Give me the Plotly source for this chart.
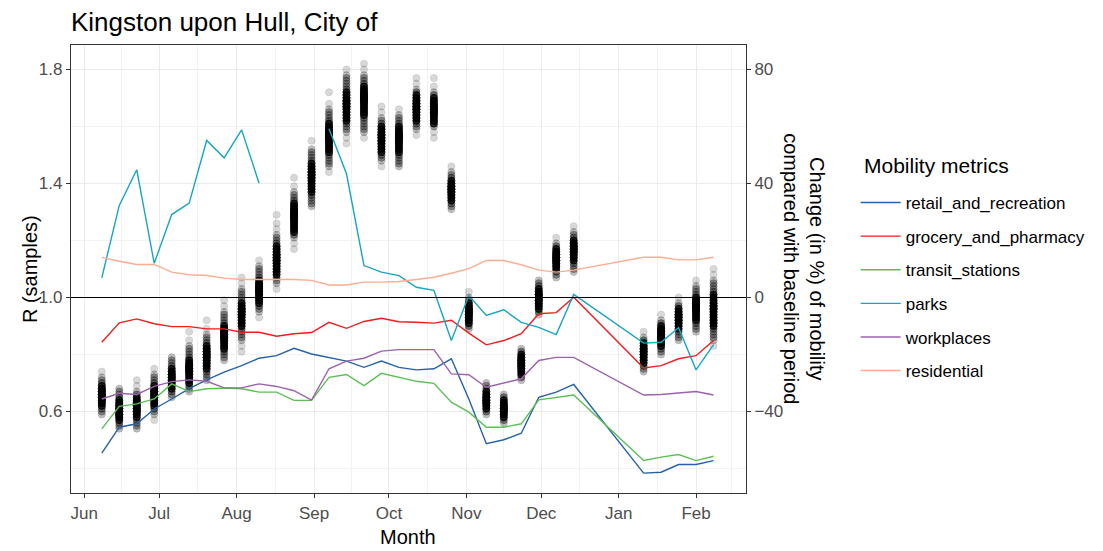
import plotly.graph_objects as go
import pandas as pd

# ---------------- data ----------------
weeks = ["2020-06-08", "2020-06-15", "2020-06-22", "2020-06-29", "2020-07-06", "2020-07-13",
         "2020-07-20", "2020-07-27", "2020-08-03", "2020-08-10", "2020-08-17", "2020-08-24",
         "2020-08-31", "2020-09-07", "2020-09-14", "2020-09-21", "2020-09-28", "2020-10-05",
         "2020-10-12", "2020-10-19", "2020-10-26", "2020-11-02", "2020-11-09", "2020-11-16",
         "2020-11-23", "2020-11-30", "2020-12-07", "2020-12-14",
         "2021-01-11", "2021-01-18", "2021-01-25", "2021-02-01", "2021-02-08"]

r_samples = [
    [0.59, 0.60, 0.61, 0.62, 0.62, 0.63, 0.63, 0.64, 0.64, 0.64, 0.65, 0.65, 0.65, 0.66, 0.66, 0.66, 0.67, 0.67, 0.67, 0.68, 0.68, 0.69, 0.69, 0.70, 0.71, 0.72, 0.74],
    [0.54, 0.55, 0.56, 0.57, 0.57, 0.58, 0.58, 0.59, 0.59, 0.59, 0.60, 0.60, 0.60, 0.61, 0.61, 0.61, 0.62, 0.62, 0.62, 0.63, 0.63, 0.64, 0.64, 0.65, 0.66, 0.67, 0.68],
    [0.54, 0.55, 0.56, 0.57, 0.58, 0.58, 0.59, 0.59, 0.60, 0.60, 0.60, 0.61, 0.61, 0.61, 0.62, 0.62, 0.62, 0.63, 0.63, 0.63, 0.64, 0.64, 0.65, 0.65, 0.66, 0.67, 0.69, 0.71],
    [0.57, 0.59, 0.60, 0.61, 0.62, 0.62, 0.63, 0.63, 0.64, 0.64, 0.65, 0.65, 0.65, 0.66, 0.66, 0.66, 0.67, 0.67, 0.67, 0.68, 0.68, 0.69, 0.69, 0.70, 0.71, 0.72, 0.73, 0.75],
    [0.65, 0.66, 0.67, 0.68, 0.68, 0.69, 0.69, 0.70, 0.70, 0.71, 0.71, 0.71, 0.72, 0.72, 0.72, 0.73, 0.73, 0.73, 0.74, 0.74, 0.75, 0.75, 0.76, 0.77, 0.78, 0.79],
    [0.67, 0.68, 0.69, 0.70, 0.70, 0.71, 0.71, 0.72, 0.72, 0.73, 0.73, 0.74, 0.74, 0.74, 0.75, 0.75, 0.75, 0.76, 0.76, 0.76, 0.77, 0.77, 0.78, 0.78, 0.79, 0.80, 0.81, 0.82, 0.83, 0.85, 0.88],
    [0.71, 0.72, 0.73, 0.74, 0.75, 0.75, 0.76, 0.76, 0.77, 0.77, 0.78, 0.78, 0.79, 0.79, 0.79, 0.80, 0.80, 0.80, 0.81, 0.81, 0.81, 0.82, 0.82, 0.83, 0.83, 0.84, 0.85, 0.86, 0.87, 0.89, 0.92],
    [0.78, 0.79, 0.80, 0.81, 0.82, 0.82, 0.83, 0.83, 0.84, 0.84, 0.85, 0.85, 0.86, 0.86, 0.86, 0.87, 0.87, 0.87, 0.88, 0.88, 0.88, 0.89, 0.89, 0.90, 0.90, 0.91, 0.92, 0.93, 0.94, 0.95, 0.97, 0.99],
    [0.81, 0.83, 0.85, 0.86, 0.87, 0.88, 0.89, 0.90, 0.90, 0.91, 0.91, 0.92, 0.92, 0.93, 0.93, 0.94, 0.94, 0.94, 0.95, 0.95, 0.95, 0.96, 0.96, 0.96, 0.97, 0.97, 0.98, 0.98, 0.99, 1.00, 1.01, 1.02, 1.03, 1.05, 1.07],
    [0.93, 0.95, 0.96, 0.97, 0.98, 0.98, 0.99, 0.99, 1.00, 1.00, 1.01, 1.01, 1.02, 1.02, 1.02, 1.03, 1.03, 1.03, 1.04, 1.04, 1.04, 1.05, 1.05, 1.06, 1.06, 1.07, 1.08, 1.09, 1.10, 1.11, 1.13],
    [1.03, 1.05, 1.06, 1.07, 1.08, 1.08, 1.09, 1.09, 1.10, 1.10, 1.11, 1.11, 1.12, 1.12, 1.13, 1.13, 1.13, 1.14, 1.14, 1.14, 1.15, 1.15, 1.15, 1.16, 1.16, 1.17, 1.17, 1.18, 1.18, 1.19, 1.20, 1.21, 1.22, 1.24, 1.26, 1.29],
    [1.17, 1.19, 1.21, 1.22, 1.23, 1.23, 1.24, 1.24, 1.25, 1.25, 1.26, 1.26, 1.27, 1.27, 1.28, 1.28, 1.28, 1.29, 1.29, 1.29, 1.30, 1.30, 1.30, 1.31, 1.31, 1.32, 1.32, 1.33, 1.33, 1.34, 1.35, 1.36, 1.37, 1.39, 1.42],
    [1.32, 1.33, 1.34, 1.35, 1.36, 1.37, 1.37, 1.38, 1.38, 1.39, 1.39, 1.40, 1.40, 1.41, 1.41, 1.42, 1.42, 1.42, 1.43, 1.43, 1.43, 1.44, 1.44, 1.44, 1.45, 1.45, 1.46, 1.46, 1.47, 1.47, 1.48, 1.49, 1.50, 1.51, 1.52, 1.55],
    [1.44, 1.46, 1.47, 1.48, 1.49, 1.50, 1.51, 1.51, 1.52, 1.52, 1.53, 1.53, 1.54, 1.54, 1.55, 1.55, 1.56, 1.56, 1.56, 1.57, 1.57, 1.57, 1.58, 1.58, 1.58, 1.59, 1.59, 1.60, 1.60, 1.61, 1.61, 1.62, 1.63, 1.64, 1.65, 1.66, 1.68, 1.72],
    [1.54, 1.56, 1.58, 1.59, 1.60, 1.61, 1.62, 1.62, 1.63, 1.63, 1.64, 1.64, 1.65, 1.65, 1.66, 1.66, 1.67, 1.67, 1.67, 1.68, 1.68, 1.68, 1.69, 1.69, 1.69, 1.70, 1.70, 1.71, 1.71, 1.72, 1.72, 1.73, 1.74, 1.75, 1.76, 1.77, 1.78, 1.80],
    [1.56, 1.58, 1.59, 1.60, 1.61, 1.62, 1.63, 1.64, 1.64, 1.65, 1.65, 1.66, 1.66, 1.67, 1.67, 1.68, 1.68, 1.69, 1.69, 1.69, 1.70, 1.70, 1.70, 1.71, 1.71, 1.71, 1.72, 1.72, 1.73, 1.73, 1.74, 1.74, 1.75, 1.76, 1.77, 1.78, 1.80, 1.82],
    [1.46, 1.48, 1.49, 1.50, 1.51, 1.51, 1.52, 1.52, 1.53, 1.53, 1.54, 1.54, 1.55, 1.55, 1.55, 1.56, 1.56, 1.56, 1.57, 1.57, 1.57, 1.58, 1.58, 1.59, 1.59, 1.60, 1.60, 1.61, 1.62, 1.63, 1.65, 1.67],
    [1.46, 1.47, 1.48, 1.49, 1.50, 1.51, 1.51, 1.52, 1.52, 1.53, 1.53, 1.54, 1.54, 1.55, 1.55, 1.55, 1.56, 1.56, 1.56, 1.57, 1.57, 1.57, 1.58, 1.58, 1.59, 1.59, 1.60, 1.60, 1.61, 1.62, 1.63, 1.64, 1.66],
    [1.57, 1.59, 1.60, 1.61, 1.62, 1.62, 1.63, 1.63, 1.64, 1.64, 1.65, 1.65, 1.66, 1.66, 1.66, 1.67, 1.67, 1.67, 1.68, 1.68, 1.68, 1.69, 1.69, 1.70, 1.70, 1.71, 1.71, 1.72, 1.73, 1.75, 1.77],
    [1.56, 1.58, 1.60, 1.61, 1.61, 1.62, 1.62, 1.63, 1.63, 1.64, 1.64, 1.65, 1.65, 1.65, 1.66, 1.66, 1.66, 1.67, 1.67, 1.67, 1.68, 1.68, 1.69, 1.69, 1.70, 1.70, 1.71, 1.72, 1.74, 1.77],
    [1.31, 1.32, 1.33, 1.34, 1.34, 1.35, 1.35, 1.36, 1.36, 1.37, 1.37, 1.37, 1.38, 1.38, 1.38, 1.39, 1.39, 1.39, 1.40, 1.40, 1.41, 1.41, 1.42, 1.43, 1.44, 1.46],
    [0.89, 0.90, 0.91, 0.91, 0.92, 0.92, 0.93, 0.93, 0.94, 0.94, 0.94, 0.95, 0.95, 0.95, 0.96, 0.96, 0.96, 0.97, 0.97, 0.98, 0.98, 0.99, 1.00, 1.02],
    [0.59, 0.60, 0.61, 0.61, 0.62, 0.62, 0.63, 0.63, 0.63, 0.64, 0.64, 0.64, 0.65, 0.65, 0.65, 0.66, 0.66, 0.67, 0.67, 0.68, 0.69, 0.70],
    [0.56, 0.57, 0.58, 0.58, 0.59, 0.59, 0.60, 0.60, 0.60, 0.61, 0.61, 0.61, 0.62, 0.62, 0.62, 0.63, 0.63, 0.64, 0.64, 0.65, 0.66],
    [0.71, 0.72, 0.73, 0.73, 0.74, 0.74, 0.75, 0.75, 0.76, 0.76, 0.76, 0.77, 0.77, 0.77, 0.78, 0.78, 0.78, 0.79, 0.79, 0.80, 0.80, 0.81, 0.82],
    [0.94, 0.95, 0.96, 0.96, 0.97, 0.97, 0.98, 0.98, 0.99, 0.99, 0.99, 1.00, 1.00, 1.00, 1.01, 1.01, 1.01, 1.02, 1.02, 1.03, 1.03, 1.04, 1.05, 1.06],
    [1.07, 1.08, 1.09, 1.10, 1.10, 1.11, 1.11, 1.12, 1.12, 1.13, 1.13, 1.13, 1.14, 1.14, 1.14, 1.15, 1.15, 1.15, 1.16, 1.16, 1.17, 1.17, 1.18, 1.19, 1.21],
    [1.09, 1.10, 1.11, 1.12, 1.13, 1.13, 1.14, 1.14, 1.15, 1.15, 1.16, 1.16, 1.16, 1.17, 1.17, 1.17, 1.18, 1.18, 1.18, 1.19, 1.19, 1.20, 1.20, 1.21, 1.22, 1.23, 1.25],
    [0.74, 0.75, 0.76, 0.77, 0.77, 0.78, 0.78, 0.79, 0.79, 0.80, 0.80, 0.80, 0.81, 0.81, 0.81, 0.82, 0.82, 0.82, 0.83, 0.83, 0.84, 0.84, 0.85, 0.86, 0.88],
    [0.80, 0.81, 0.82, 0.83, 0.83, 0.84, 0.84, 0.85, 0.85, 0.86, 0.86, 0.86, 0.87, 0.87, 0.87, 0.88, 0.88, 0.88, 0.89, 0.89, 0.90, 0.90, 0.91, 0.92, 0.94],
    [0.85, 0.86, 0.87, 0.88, 0.89, 0.89, 0.90, 0.90, 0.91, 0.91, 0.92, 0.92, 0.92, 0.93, 0.93, 0.93, 0.94, 0.94, 0.94, 0.95, 0.95, 0.96, 0.96, 0.97, 0.98, 1.00],
    [0.88, 0.89, 0.90, 0.91, 0.92, 0.92, 0.93, 0.93, 0.94, 0.94, 0.95, 0.95, 0.96, 0.96, 0.96, 0.97, 0.97, 0.97, 0.98, 0.98, 0.98, 0.99, 0.99, 1.00, 1.00, 1.01, 1.02, 1.03, 1.04, 1.06],
    [0.83, 0.85, 0.86, 0.87, 0.88, 0.89, 0.90, 0.90, 0.91, 0.91, 0.92, 0.92, 0.93, 0.93, 0.94, 0.94, 0.95, 0.95, 0.96, 0.96, 0.96, 0.97, 0.97, 0.97, 0.98, 0.98, 0.99, 0.99, 1.00, 1.00, 1.01, 1.01, 1.02, 1.03, 1.04, 1.05, 1.06, 1.08, 1.10],
]

retail_and_recreation = [-54.6, -45.5, -44.3, -39.1, -35.6, -32.0, -28.9, -26.2, -23.9, -21.3, -20.4, -17.8,
                         -19.8, -21.0, -22.3, -24.5, -22.3, -24.5, -25.4, -25.0, -21.5, -35.6, -51.3, -49.9,
                         -47.6, -35.0, -33.2, -30.5, -61.6, -61.3, -58.6, -58.6, -57.2]
grocery_and_pharmacy = [-15.7, -8.9, -7.5, -9.2, -10.2, -10.2, -11.0, -11.0, -12.2, -12.2, -13.6, -12.7,
                        -12.3, -8.7, -10.8, -8.4, -7.3, -8.5, -8.7, -9.0, -8.0, -12.5, -16.6, -15.1,
                        -12.7, -5.7, -5.3, 0.1, -24.7, -23.9, -21.5, -20.4, -15.1]
transit_stations = [-46.1, -38.2, -37.3, -35.6, -30.3, -33.0, -32.0, -31.8, -32.0, -33.2, -33.2, -36.1,
                    -36.1, -28.0, -27.0, -30.9, -26.6, -28.1, -29.4, -30.1, -36.7, -40.2, -45.5, -45.5,
                    -44.3, -35.9, -35.0, -34.2, -57.2, -56.0, -55.1, -57.2, -55.7]
parks = [6.9, 32.3, 44.8, 12.0, 29.1, 33.1, 55.1, 49.0, 58.8, 40.1, None, None,
         None, 59.2, 43.4, 11.2, 8.9, 7.7, 3.6, 2.5, -15.1, 0.7, -6.3, -4.3,
         -8.7, -10.5, -13.0, 1.1, -16.0, -15.7, -10.6, -25.4, -16.5]
workplaces = [-35.6, -33.6, -34.0, -31.2, -29.5, -28.9, -29.4, -31.7, -31.7, -30.3, -31.2, -32.7,
              -36.0, -25.0, -22.3, -21.3, -18.8, -18.3, -18.3, -18.3, -26.8, -27.1, -31.5, -30.1,
              -28.5, -22.1, -21.0, -21.0, -34.2, -34.0, -33.6, -33.0, -34.2]
residential = [14.1, 12.7, 11.6, 11.6, 8.9, 8.0, 7.7, 6.8, 6.3, 6.3, 6.3, 6.3,
               6.0, 4.4, 4.4, 5.4, 5.4, 5.6, 6.3, 7.1, 8.5, 10.1, 13.0, 13.0,
               11.5, 9.6, 8.9, 9.6, 14.1, 14.1, 13.2, 13.2, 14.1]

metric_names = ["retail_and_recreation", "grocery_and_pharmacy", "transit_stations",
                "parks", "workplaces", "residential"]
metric_values = [retail_and_recreation, grocery_and_pharmacy, transit_stations,
                 parks, workplaces, residential]
metric_colors = ["#2562a8", "#f01c1c", "#5cbf55", "#17a5c2", "#9b63ad", "#fdad90"]

month_ticks = ["2020-06-01", "2020-07-01", "2020-08-01", "2020-09-01", "2020-10-01",
               "2020-11-01", "2020-12-01", "2021-01-01", "2021-02-01", "2021-03-01"]
month_labels = ["Jun", "Jul", "Aug", "Sep", "Oct", "Nov", "Dec", "Jan", "Feb", "Mar"]
r_ticks = [0.6, 1.0, 1.4, 1.8]
r_minor = [0.4, 0.8, 1.2, 1.6]
change_ticks = [-40, 0, 40, 80]

# ---------------- figure ----------------
FONT = "Liberation Sans, Arial, sans-serif"
TICKC = "#4d4d4d"
GRID = "#ebebeb"

mt = pd.to_datetime(month_ticks)
minor_x = [(mt[i] + (mt[i + 1] - mt[i]) / 2).strftime("%Y-%m-%d %H:%M") for i in range(len(mt) - 1)]

# points; each point's alpha is raised where many samples overlap (emulates dense alpha stacking)
px_, py_, pop_ = [], [], []
for d, vals in zip(weeks, r_samples):
    for v in vals:
        n = sum(1 for w in vals if abs(w - v) <= 0.0151)
        px_.append(d)
        py_.append(v)
        pop_.append(min(0.95, 0.2 + 0.13 * (n - 1)))

fig = go.Figure()
fig.add_trace(go.Scatter(
    x=px_, y=py_, mode="markers", showlegend=False, hoverinfo="skip",
    marker=dict(size=7, color="rgba(0,0,0,0.75)", opacity=pop_,
                line=dict(width=0.8, color="rgba(0,0,0,1)")),
))

for name, vals, col in zip(metric_names, metric_values, metric_colors):
    fig.add_trace(go.Scatter(
        x=weeks, y=vals, mode="lines", name=name, yaxis="y2",
        line=dict(color=col, width=1.4), legendgroup=name,
    ))

y_lo, y_hi = 0.3142, 1.8858
fig.add_hline(y=1.0, line=dict(color="black", width=1.1), layer="above")

fig.update_layout(
    width=1103, height=551,
    margin=dict(l=71, r=355, t=45, b=58),
    paper_bgcolor="white", plot_bgcolor="white",
    font=dict(family=FONT, color="black"),
    title=dict(text="Kingston upon Hull, City of", font=dict(size=26, color="black", family=FONT),
               xref="paper", x=0, xanchor="left", yref="container", y=1 - 22 / 551, yanchor="middle"),
    xaxis=dict(
        type="date", range=["2020-05-26 16:00", "2021-02-21"],
        tickmode="array", tickvals=month_ticks, ticktext=month_labels,
        showgrid=True, gridcolor=GRID, gridwidth=1.1,
        minor=dict(tickmode="array", tickvals=minor_x, showgrid=True, gridcolor="#f2f2f2", gridwidth=0.8),
        ticks="outside", ticklen=4, tickcolor="#333333",
        tickfont=dict(size=17, color=TICKC, family=FONT),
        showline=True, linecolor="#333333", linewidth=1.2, mirror=True, zeroline=False,
    ),
    yaxis=dict(
        range=[y_lo, y_hi], tickvals=r_ticks, ticktext=[f"{v:.1f}" for v in r_ticks],
        showgrid=True, gridcolor=GRID, gridwidth=1.1,
        minor=dict(tickmode="array", tickvals=r_minor, showgrid=True, gridcolor="#f2f2f2", gridwidth=0.8),
        ticks="outside", ticklen=4, tickcolor="#333333",
        tickfont=dict(size=17, color=TICKC, family=FONT),
        showline=True, linecolor="#333333", linewidth=1.2, mirror=True, zeroline=False,
    ),
    yaxis2=dict(
        overlaying="y", side="right",
        range=[(y_lo - 1) * 100, (y_hi - 1) * 100], tickvals=change_ticks,
        showgrid=False, zeroline=False,
        ticks="outside", ticklen=4, tickcolor="#333333",
        tickfont=dict(size=17, color=TICKC, family=FONT),
    ),
    legend=dict(
        x=(858 - 71) / 677, xanchor="left", y=(493 - 185) / 448, yanchor="top",
        font=dict(size=17, color="black", family=FONT),
        tracegroupgap=8.5, bgcolor="rgba(0,0,0,0)", itemwidth=40,
    ),
    annotations=[
        dict(text="Mobility metrics", xref="paper", yref="paper", x=(864 - 71) / 677,
             y=(493 - 165) / 448, showarrow=False, xanchor="left", yanchor="middle",
             font=dict(size=21, color="black", family=FONT)),
        dict(text="Month", xref="paper", yref="paper", x=(409 - 71) / 677, y=(493 - 537) / 448,
             showarrow=False, font=dict(size=20, color="black", family=FONT),
             xanchor="center", yanchor="middle"),
        dict(text="R (samples)", xref="paper", yref="paper", x=(30 - 71) / 677, y=0.5,
             showarrow=False, textangle=-90, font=dict(size=20, color="black", family=FONT),
             xanchor="center", yanchor="middle"),
        dict(text="Change (in %) of mobility<br>compared with baseline period",
             xref="paper", yref="paper", x=(806 - 71) / 677, y=0.5,
             showarrow=False, textangle=90, font=dict(size=20, color="black", family=FONT),
             xanchor="center", yanchor="middle"),
    ],
)

fig.write_html("out.html", config={"displayModeBar": False},
               post_script="document.body.style.margin='0';")
